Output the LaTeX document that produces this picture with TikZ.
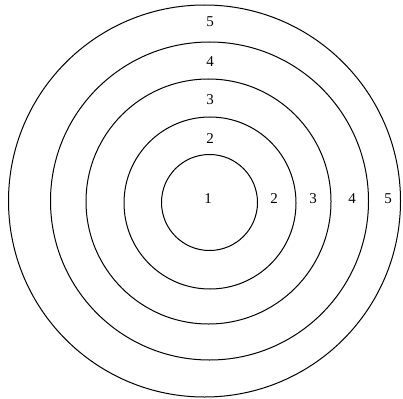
\documentclass[tikz,border=0pt]{standalone}
\usepackage{fontspec}
\setmainfont{Liberation Serif}
\usetikzlibrary{positioning}

\begin{document}
\begin{tikzpicture}[
        x=1pt, y=-1pt,
        ring/.style={
            draw,
            circle,
            inner sep=0pt,
            line width=1pt
        },
        score/.style={
            font=\fontsize{15}{17}\selectfont,
            inner sep=0pt
        }
    ]

    \useasboundingbox (0,0) rectangle (403,398);

    % rings, from the bull to the outside
    \foreach \n/\cx/\cy/\r in {1/209.5/202.5/48, 2/210/203/86, 3/208.5/201.5/122.5,
                               4/209.5/201/159, 5/204.5/201/196}
        \node[ring, minimum size=2*\r pt] (ring\n) at (\cx,\cy) {};

    % scores above the centre
    \node[score] (top5) at (210,22) {5};
    \node[score] (top4) at (210,62) {4};
    \node[score] (top3) at (210,100) {3};
    \node[score] (top2) at (210,139) {2};
    \node[score] (bull) at (208,199) {1};

    % scores right of the centre
    \node[score] (side2) at (274,199) {2};
    \node[score] (side3) at (313,199) {3};
    \node[score] (side4) at (352,199) {4};
    \node[score] (side5) at (388,199) {5};

\end{tikzpicture}
\end{document}
